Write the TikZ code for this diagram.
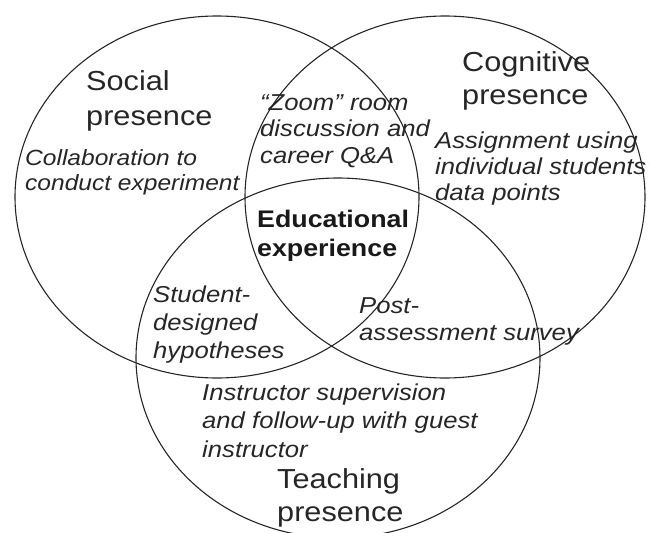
\documentclass[tikz,border=0pt]{standalone}
\usepackage{fontspec}
\setmainfont{Liberation Sans}[FakeStretch=1.116]
\begin{document}
\begin{tikzpicture}[x=1pt,y=-1pt,
  ring/.style={draw=black!85, line width=1.1pt},
  head/.style={font=\fontsize{27.5}{34}\selectfont, text=black!85, align=left, anchor=base west, inner sep=0pt},
  item/.style={font=\fontsize{23}{26.5}\selectfont\itshape, text=black!85, align=left, anchor=base west, inner sep=0pt},
  core/.style={font=\fontsize{24}{29}\selectfont\bfseries, text=black!90, align=left, anchor=base west, inner sep=0pt}]
\useasboundingbox (0,0) rectangle (649,533);
\clip (0,0) rectangle (649,533);
\draw[ring] (217,197) ellipse [x radius=202pt, y radius=181pt];
\draw[ring] (445,197) ellipse [x radius=200pt, y radius=181pt];
\draw[ring] (338,358) ellipse [x radius=202pt, y radius=180pt];
\node[head, font=\fontsize{27.5}{35}\selectfont] (social) at (86,125.5) {Social\\presence};
\node[head, font=\fontsize{27.5}{33}\selectfont] (cognitive) at (462,104) {Cognitive\\presence};
\node[head, font=\fontsize{27.5}{33}\selectfont] (teaching) at (277,521) {Teaching\\presence};
\node[item, font=\fontsize{22}{24.5}\selectfont\itshape] (collab) at (25,190) {Collaboration to\\conduct experiment};
\node[item] (zoom) at (260,163) {“Zoom” room\\discussion and\\career Q\&A};
\node[item, font=\fontsize{23}{26}\selectfont\itshape] (assign) at (435,200) {Assignment using\\individual students’\\data points};
\node[core] (edu) at (257,256) {Educational\\experience};
\node[item, font=\fontsize{23}{28}\selectfont\itshape] (student) at (153,358) {Student-\\designed\\hypotheses};
\node[item, font=\fontsize{23}{27}\selectfont\itshape] (post) at (359,340) {Post-\\assessment survey};
\node[item, font=\fontsize{23}{28.5}\selectfont\itshape] (instr) at (202,457) {Instructor supervision\\and follow-up with guest\\instructor};
\end{tikzpicture}
\end{document}
